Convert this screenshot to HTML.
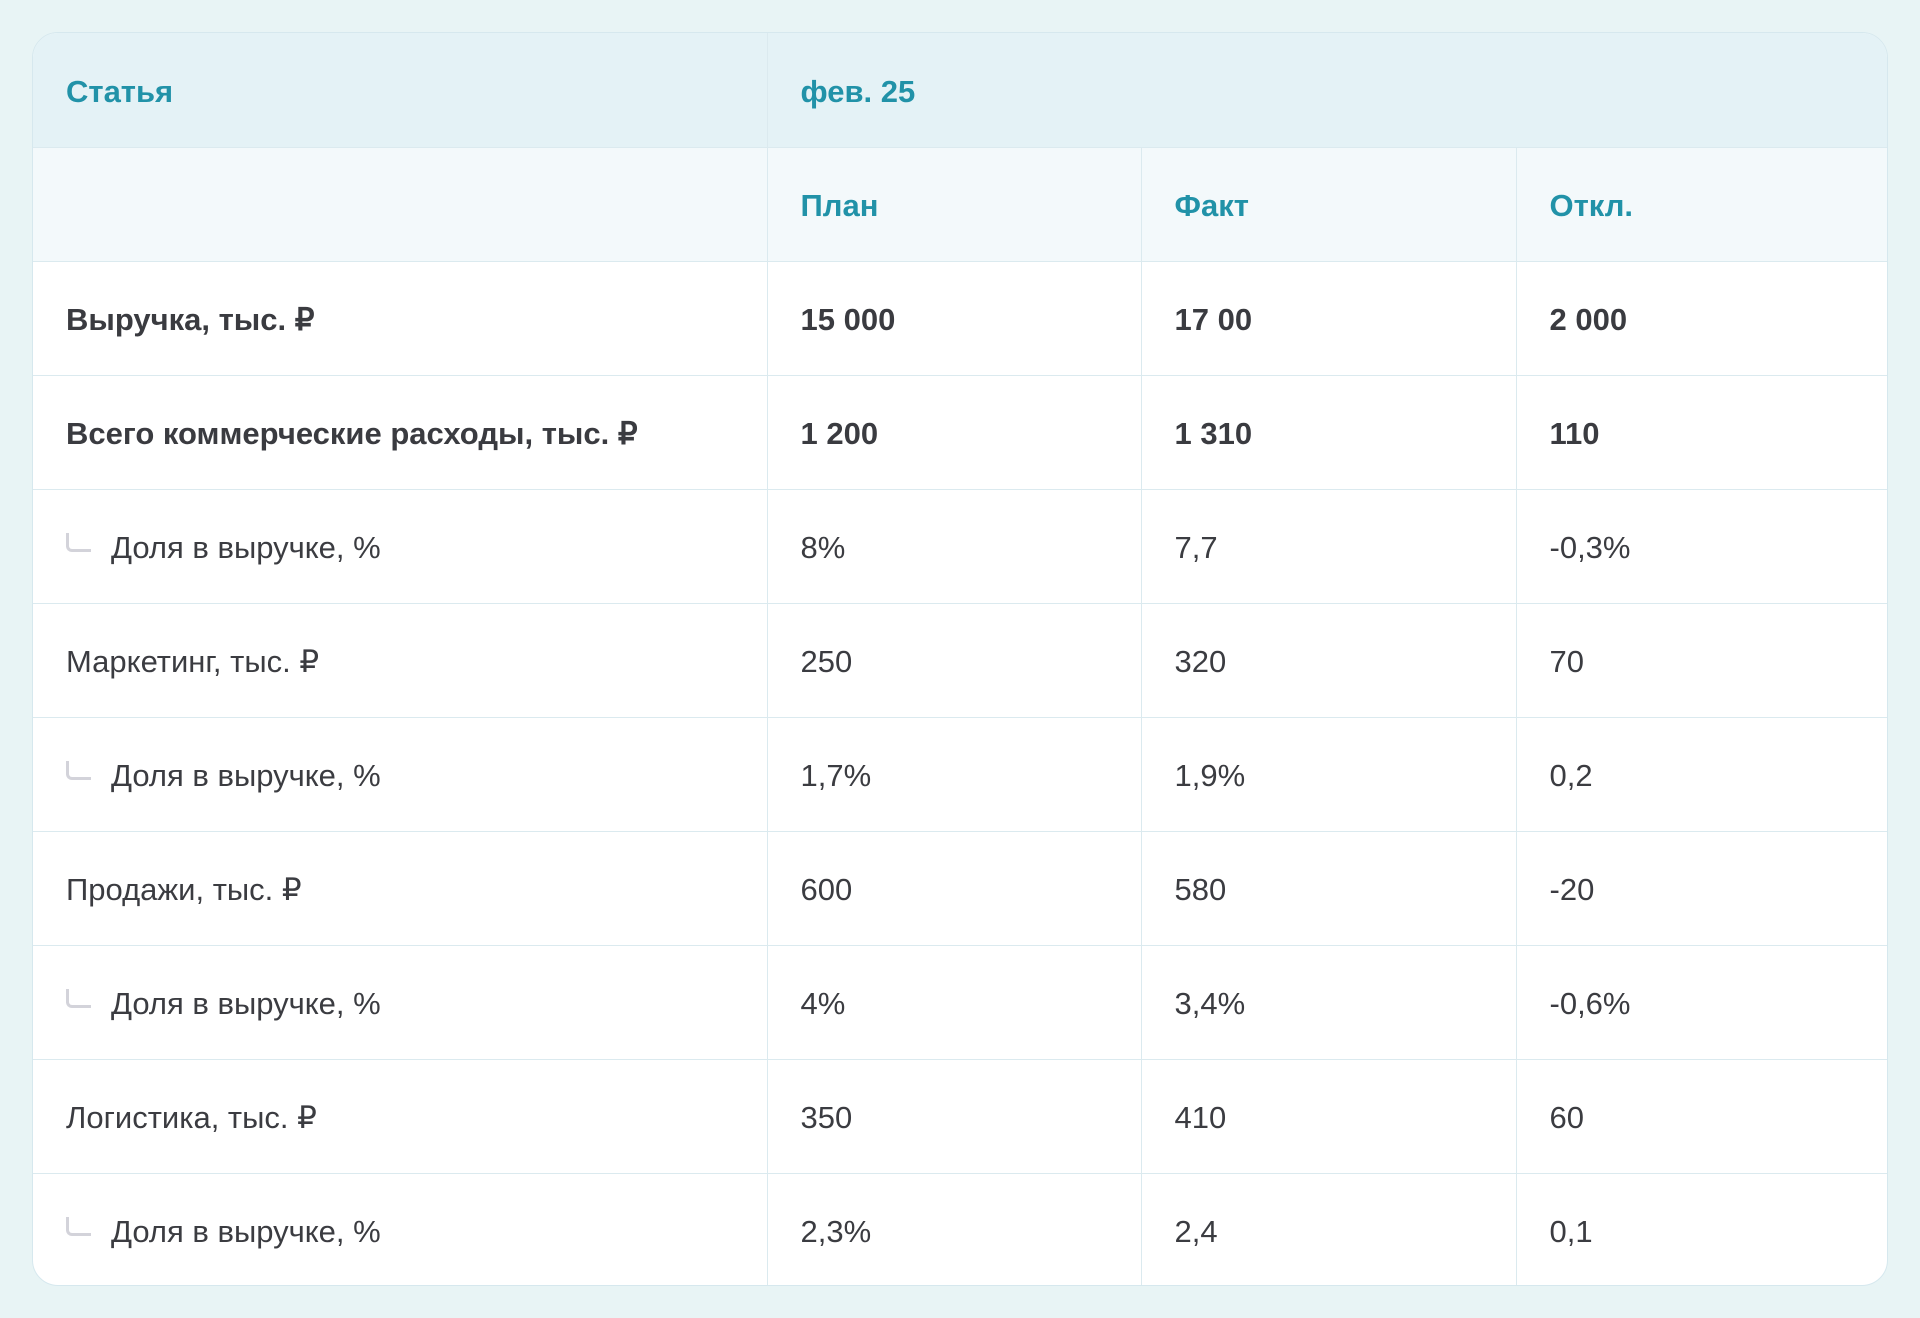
<!DOCTYPE html>
<html><head><meta charset="utf-8"><style>
html,body{margin:0;padding:0;width:1920px;height:1318px;background:#e8f4f5;overflow:hidden}
.card{position:absolute;left:32px;top:32px;width:1856px;height:1254px;background:#fff;border:1px solid #d6e8ee;border-radius:26px;overflow:hidden;box-sizing:border-box}
table{border-collapse:collapse;width:100%;table-layout:fixed;font-family:"Liberation Sans",sans-serif;font-size:31px;color:#3b3c41}
td{height:114px;border-bottom:1.5px solid #dbeaef;border-left:1.5px solid #dbeaef;padding:4px 0 0 33px;box-sizing:border-box}
td:first-child{border-left:none}
tr:last-child td{border-bottom:none}
.h1 td{background:#e4f2f6;color:#2192a8;font-weight:bold}
.h2 td{background:#f3f9fb;color:#2192a8;font-weight:bold}
.b td{font-weight:bold;color:#3a3b40}
.s{display:inline-block;width:22px;height:16px;border-left:3px solid #d3d3da;border-bottom:3px solid #d3d3da;border-bottom-left-radius:6px;margin-right:20px;vertical-align:6px}
</style></head><body>
<div class="card"><table>
<colgroup><col style="width:734px"><col style="width:374px"><col style="width:375px"><col></colgroup>
<tr class="h1"><td>Статья</td><td colspan="3">фев. 25</td></tr>
<tr class="h2"><td></td><td>План</td><td>Факт</td><td>Откл.</td></tr>
<tr class="b"><td>Выручка, тыс. ₽</td><td>15 000</td><td>17 00</td><td>2 000</td></tr>
<tr class="b"><td>Всего коммерческие расходы, тыс. ₽</td><td>1 200</td><td>1 310</td><td>110</td></tr>
<tr><td><span class="s"></span>Доля в выручке, %</td><td>8%</td><td>7,7</td><td>-0,3%</td></tr>
<tr><td>Маркетинг, тыс. ₽</td><td>250</td><td>320</td><td>70</td></tr>
<tr><td><span class="s"></span>Доля в выручке, %</td><td>1,7%</td><td>1,9%</td><td>0,2</td></tr>
<tr><td>Продажи, тыс. ₽</td><td>600</td><td>580</td><td>-20</td></tr>
<tr><td><span class="s"></span>Доля в выручке, %</td><td>4%</td><td>3,4%</td><td>-0,6%</td></tr>
<tr><td>Логистика, тыс. ₽</td><td>350</td><td>410</td><td>60</td></tr>
<tr><td><span class="s"></span>Доля в выручке, %</td><td>2,3%</td><td>2,4</td><td>0,1</td></tr>
</table></div>
</body></html>
